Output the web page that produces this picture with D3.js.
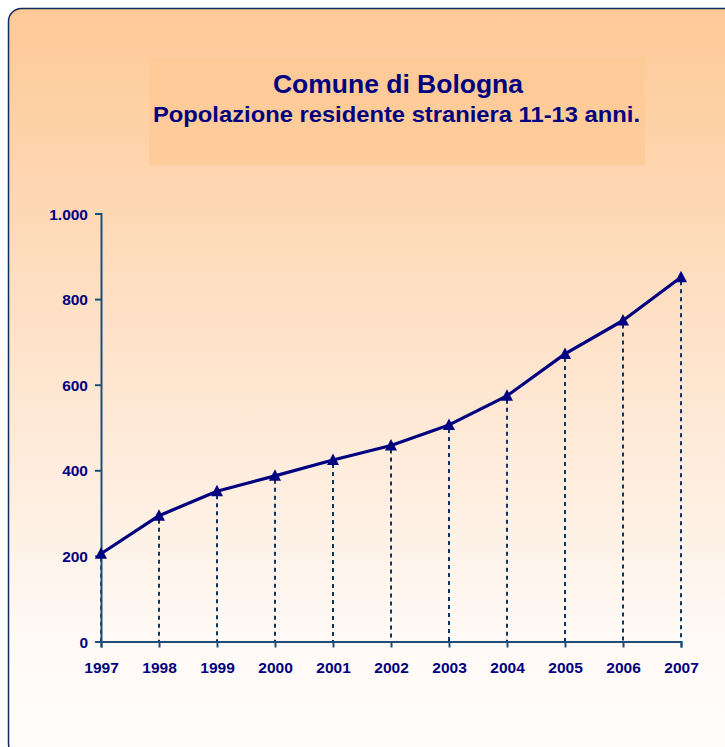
<!DOCTYPE html>
<html>
<head>
<meta charset="utf-8">
<script src="https://cdn.jsdelivr.net/npm/d3@7"></script>
<style>
  html, body { margin: 0; padding: 0; background: #fff; }
  svg { display: block; }
</style>
</head>
<body>
<div id="chart"></div>
<script>
// dati
var anni = ["1997", "1998", "1999", "2000", "2001", "2002", "2003", "2004", "2005", "2006", "2007"];
var valori = [205, 294, 351, 387, 424, 458, 506, 574, 672, 750, 851];
var yTicks = [0, 200, 400, 600, 800, 1000];
var titolo = "Comune di Bologna";
var sottotitolo = "Popolazione residente straniera 11-13 anni.";

var width = 725,
    height = 747;

var svg = d3.select("#chart")
  .append("svg")
    .attr("width", width)
    .attr("height", height);

// background gradient of the panel
var defs = svg.append("defs");
var grad = defs.append("linearGradient")
    .attr("id", "bg")
    .attr("x1", 0).attr("y1", 0).attr("x2", 0).attr("y2", 1);
grad.append("stop").attr("offset", "0%").attr("stop-color", "#fec995");
grad.append("stop").attr("offset", "45%").attr("stop-color", "#fee3cb");
grad.append("stop").attr("offset", "85%").attr("stop-color", "#fffaf6");
grad.append("stop").attr("offset", "100%").attr("stop-color", "#fffdfc");

svg.append("rect")
    .attr("x", 8.5)
    .attr("y", 8.5)
    .attr("width", 760)
    .attr("height", 748)
    .attr("rx", 13)
    .attr("fill", "url(#bg)")
    .attr("stroke", "#0d2d5e")
    .attr("stroke-width", 1.5);

// title box
svg.append("rect")
    .attr("x", 149)
    .attr("y", 58)
    .attr("width", 496)
    .attr("height", 107)
    .attr("fill", "#fec996")
    .attr("opacity", 0.8);

svg.append("text")
    .attr("x", 398)
    .attr("y", 93)
    .attr("text-anchor", "middle")
    .attr("font-family", "Liberation Sans, Arial, sans-serif")
    .attr("font-weight", "bold")
    .attr("font-size", 25)
    .attr("textLength", 250)
    .attr("lengthAdjust", "spacingAndGlyphs")
    .attr("fill", "#000080")
    .text(titolo);

svg.append("text")
    .attr("x", 396.5)
    .attr("y", 122)
    .attr("text-anchor", "middle")
    .attr("font-family", "Liberation Sans, Arial, sans-serif")
    .attr("font-weight", "bold")
    .attr("font-size", 21.5)
    .attr("textLength", 487)
    .attr("lengthAdjust", "spacingAndGlyphs")
    .attr("fill", "#000080")
    .text(sottotitolo);

// scales
var x = d3.scalePoint()
    .domain(anni)
    .range([101, 681]);

var y = d3.scaleLinear()
    .domain([0, 1000])
    .range([641.5, 213.5]);

var axisColor = "#1f4e79";
var fmt = d3.formatLocale({decimal: ",", thousands: ".", grouping: [3], currency: ["€", ""]}).format(",d");

// drop lines
svg.append("g")
  .selectAll("line")
  .data(valori)
  .join("line")
    .attr("x1", (d, i) => x(anni[i]))
    .attr("x2", (d, i) => x(anni[i]))
    .attr("y1", d => y(d) + 4)
    .attr("y2", y(0))
    .attr("stroke", "#0d3460")
    .attr("stroke-width", 2)
    .attr("stroke-dasharray", "4,4");

// y axis
var yAxis = svg.append("g")
    .attr("transform", "translate(101,0)")
    .call(d3.axisLeft(y).tickValues(yTicks).tickSize(6).tickPadding(7).tickFormat(fmt));

// x axis
var xAxis = svg.append("g")
    .attr("transform", "translate(0," + y(0) + ")")
    .call(d3.axisBottom(x).tickSize(6).tickPadding(14));

[yAxis, xAxis].forEach(function(a){
  a.select(".domain").attr("stroke", axisColor).attr("stroke-width", 2);
  a.selectAll(".tick line").attr("stroke", axisColor).attr("stroke-width", 2);
  a.selectAll(".tick text")
    .attr("fill", "#000080")
    .attr("font-family", "Liberation Sans, Arial, sans-serif")
    .attr("font-weight", "bold")
    .attr("font-size", 15.5);
});
yAxis.selectAll(".tick text").attr("dy", "0.36em");

// line
var line = d3.line()
    .x((d, i) => x(anni[i]))
    .y(d => y(d));

svg.append("path")
    .datum(valori)
    .attr("d", line)
    .attr("fill", "none")
    .attr("stroke", "#000080")
    .attr("stroke-width", 3.2)
    .attr("stroke-linejoin", "round");

// triangle markers
svg.append("g")
  .selectAll("path")
  .data(valori)
  .join("path")
    .attr("d", "M0,-6.5L6,5L-6,5Z")
    .attr("transform", (d, i) => "translate(" + x(anni[i]) + "," + y(d) + ")")
    .attr("fill", "#000080");
</script>
</body>
</html>
